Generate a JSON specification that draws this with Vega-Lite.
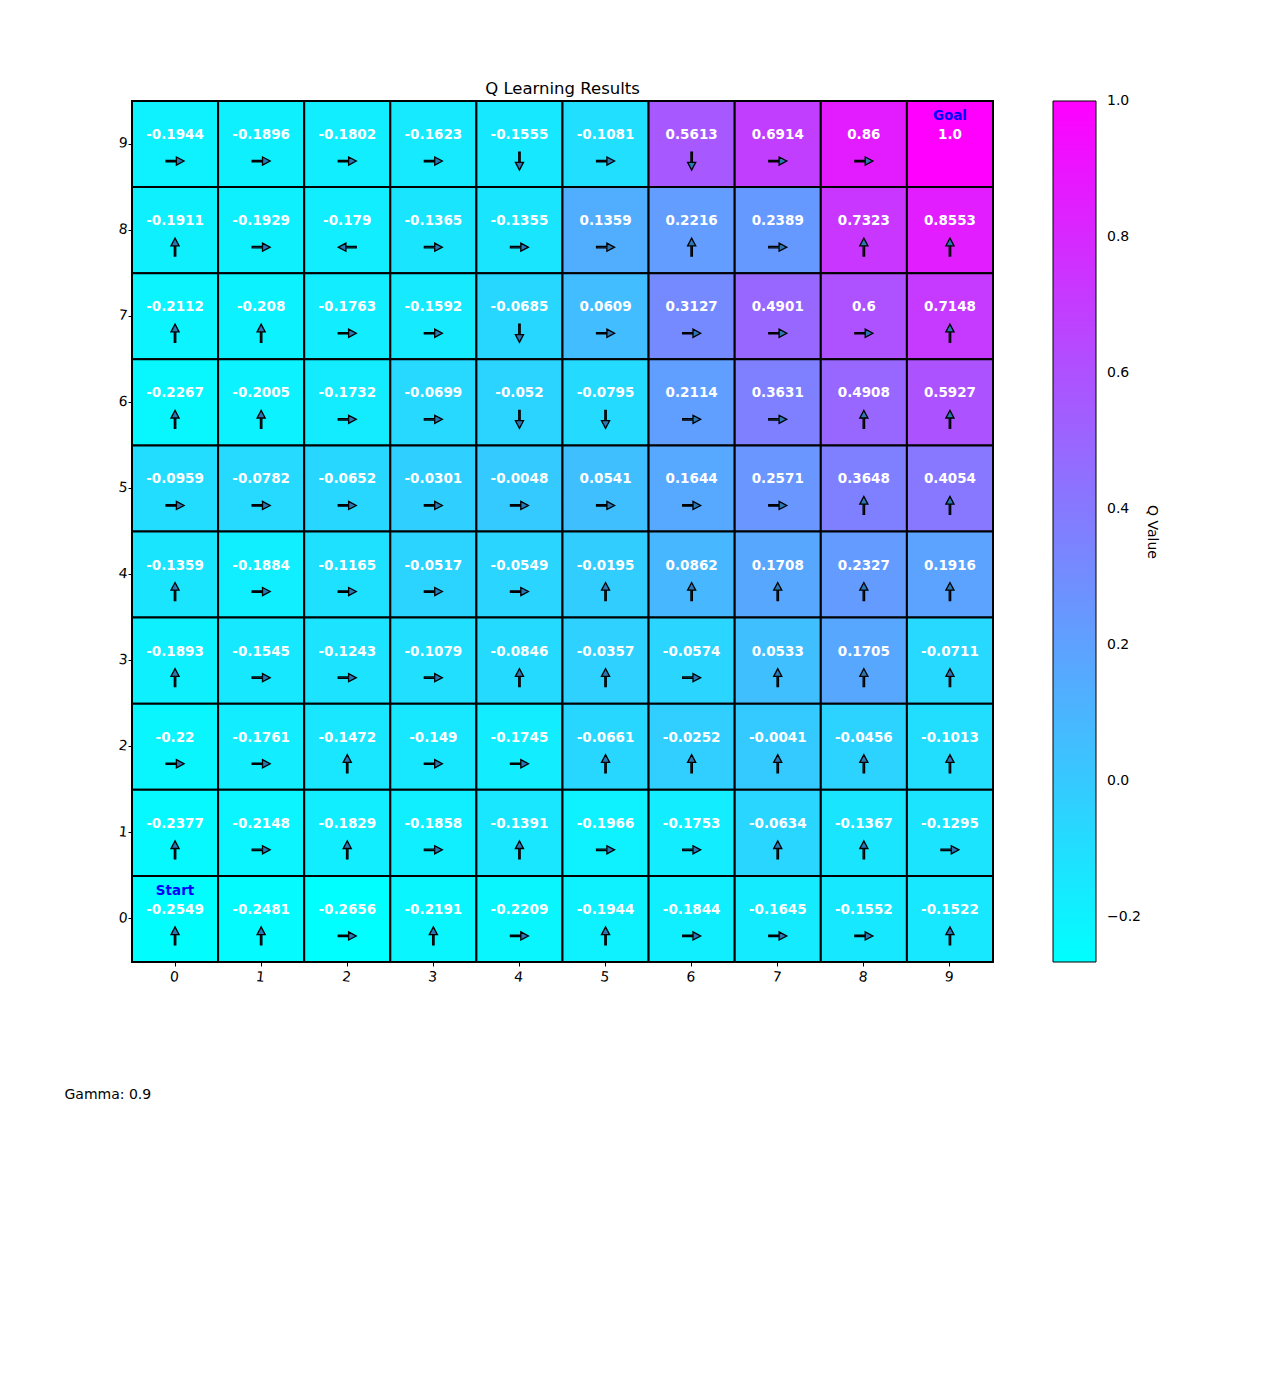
{
 "$schema": "https://vega.github.io/schema/vega-lite/v6.json",
 "width": 861, "height": 861,
 "autosize": {"type": "none"},
 "padding": {"left": 132, "top": 101, "right": 285, "bottom": 412},
 "config": {"font": "DejaVu Sans", "view": {"stroke": null}},
 "title": {"text": "Q Learning Results", "fontSize": 16.5, "fontWeight": "normal", "offset": 3, "color": "#000000"},
 "data": {"values": [
  {"r":9,"c":0,"v":-0.1944,"t":"-0.1944","d":"R","s":""},
  {"r":9,"c":1,"v":-0.1896,"t":"-0.1896","d":"R","s":""},
  {"r":9,"c":2,"v":-0.1802,"t":"-0.1802","d":"R","s":""},
  {"r":9,"c":3,"v":-0.1623,"t":"-0.1623","d":"R","s":""},
  {"r":9,"c":4,"v":-0.1555,"t":"-0.1555","d":"D","s":""},
  {"r":9,"c":5,"v":-0.1081,"t":"-0.1081","d":"R","s":""},
  {"r":9,"c":6,"v":0.5613,"t":"0.5613","d":"D","s":""},
  {"r":9,"c":7,"v":0.6914,"t":"0.6914","d":"R","s":""},
  {"r":9,"c":8,"v":0.86,"t":"0.86","d":"R","s":""},
  {"r":9,"c":9,"v":1.0,"t":"1.0","d":"","s":"Goal"},
  {"r":8,"c":0,"v":-0.1911,"t":"-0.1911","d":"U","s":""},
  {"r":8,"c":1,"v":-0.1929,"t":"-0.1929","d":"R","s":""},
  {"r":8,"c":2,"v":-0.179,"t":"-0.179","d":"L","s":""},
  {"r":8,"c":3,"v":-0.1365,"t":"-0.1365","d":"R","s":""},
  {"r":8,"c":4,"v":-0.1355,"t":"-0.1355","d":"R","s":""},
  {"r":8,"c":5,"v":0.1359,"t":"0.1359","d":"R","s":""},
  {"r":8,"c":6,"v":0.2216,"t":"0.2216","d":"U","s":""},
  {"r":8,"c":7,"v":0.2389,"t":"0.2389","d":"R","s":""},
  {"r":8,"c":8,"v":0.7323,"t":"0.7323","d":"U","s":""},
  {"r":8,"c":9,"v":0.8553,"t":"0.8553","d":"U","s":""},
  {"r":7,"c":0,"v":-0.2112,"t":"-0.2112","d":"U","s":""},
  {"r":7,"c":1,"v":-0.208,"t":"-0.208","d":"U","s":""},
  {"r":7,"c":2,"v":-0.1763,"t":"-0.1763","d":"R","s":""},
  {"r":7,"c":3,"v":-0.1592,"t":"-0.1592","d":"R","s":""},
  {"r":7,"c":4,"v":-0.0685,"t":"-0.0685","d":"D","s":""},
  {"r":7,"c":5,"v":0.0609,"t":"0.0609","d":"R","s":""},
  {"r":7,"c":6,"v":0.3127,"t":"0.3127","d":"R","s":""},
  {"r":7,"c":7,"v":0.4901,"t":"0.4901","d":"R","s":""},
  {"r":7,"c":8,"v":0.6,"t":"0.6","d":"R","s":""},
  {"r":7,"c":9,"v":0.7148,"t":"0.7148","d":"U","s":""},
  {"r":6,"c":0,"v":-0.2267,"t":"-0.2267","d":"U","s":""},
  {"r":6,"c":1,"v":-0.2005,"t":"-0.2005","d":"U","s":""},
  {"r":6,"c":2,"v":-0.1732,"t":"-0.1732","d":"R","s":""},
  {"r":6,"c":3,"v":-0.0699,"t":"-0.0699","d":"R","s":""},
  {"r":6,"c":4,"v":-0.052,"t":"-0.052","d":"D","s":""},
  {"r":6,"c":5,"v":-0.0795,"t":"-0.0795","d":"D","s":""},
  {"r":6,"c":6,"v":0.2114,"t":"0.2114","d":"R","s":""},
  {"r":6,"c":7,"v":0.3631,"t":"0.3631","d":"R","s":""},
  {"r":6,"c":8,"v":0.4908,"t":"0.4908","d":"U","s":""},
  {"r":6,"c":9,"v":0.5927,"t":"0.5927","d":"U","s":""},
  {"r":5,"c":0,"v":-0.0959,"t":"-0.0959","d":"R","s":""},
  {"r":5,"c":1,"v":-0.0782,"t":"-0.0782","d":"R","s":""},
  {"r":5,"c":2,"v":-0.0652,"t":"-0.0652","d":"R","s":""},
  {"r":5,"c":3,"v":-0.0301,"t":"-0.0301","d":"R","s":""},
  {"r":5,"c":4,"v":-0.0048,"t":"-0.0048","d":"R","s":""},
  {"r":5,"c":5,"v":0.0541,"t":"0.0541","d":"R","s":""},
  {"r":5,"c":6,"v":0.1644,"t":"0.1644","d":"R","s":""},
  {"r":5,"c":7,"v":0.2571,"t":"0.2571","d":"R","s":""},
  {"r":5,"c":8,"v":0.3648,"t":"0.3648","d":"U","s":""},
  {"r":5,"c":9,"v":0.4054,"t":"0.4054","d":"U","s":""},
  {"r":4,"c":0,"v":-0.1359,"t":"-0.1359","d":"U","s":""},
  {"r":4,"c":1,"v":-0.1884,"t":"-0.1884","d":"R","s":""},
  {"r":4,"c":2,"v":-0.1165,"t":"-0.1165","d":"R","s":""},
  {"r":4,"c":3,"v":-0.0517,"t":"-0.0517","d":"R","s":""},
  {"r":4,"c":4,"v":-0.0549,"t":"-0.0549","d":"R","s":""},
  {"r":4,"c":5,"v":-0.0195,"t":"-0.0195","d":"U","s":""},
  {"r":4,"c":6,"v":0.0862,"t":"0.0862","d":"U","s":""},
  {"r":4,"c":7,"v":0.1708,"t":"0.1708","d":"U","s":""},
  {"r":4,"c":8,"v":0.2327,"t":"0.2327","d":"U","s":""},
  {"r":4,"c":9,"v":0.1916,"t":"0.1916","d":"U","s":""},
  {"r":3,"c":0,"v":-0.1893,"t":"-0.1893","d":"U","s":""},
  {"r":3,"c":1,"v":-0.1545,"t":"-0.1545","d":"R","s":""},
  {"r":3,"c":2,"v":-0.1243,"t":"-0.1243","d":"R","s":""},
  {"r":3,"c":3,"v":-0.1079,"t":"-0.1079","d":"R","s":""},
  {"r":3,"c":4,"v":-0.0846,"t":"-0.0846","d":"U","s":""},
  {"r":3,"c":5,"v":-0.0357,"t":"-0.0357","d":"U","s":""},
  {"r":3,"c":6,"v":-0.0574,"t":"-0.0574","d":"R","s":""},
  {"r":3,"c":7,"v":0.0533,"t":"0.0533","d":"U","s":""},
  {"r":3,"c":8,"v":0.1705,"t":"0.1705","d":"U","s":""},
  {"r":3,"c":9,"v":-0.0711,"t":"-0.0711","d":"U","s":""},
  {"r":2,"c":0,"v":-0.22,"t":"-0.22","d":"R","s":""},
  {"r":2,"c":1,"v":-0.1761,"t":"-0.1761","d":"R","s":""},
  {"r":2,"c":2,"v":-0.1472,"t":"-0.1472","d":"U","s":""},
  {"r":2,"c":3,"v":-0.149,"t":"-0.149","d":"R","s":""},
  {"r":2,"c":4,"v":-0.1745,"t":"-0.1745","d":"R","s":""},
  {"r":2,"c":5,"v":-0.0661,"t":"-0.0661","d":"U","s":""},
  {"r":2,"c":6,"v":-0.0252,"t":"-0.0252","d":"U","s":""},
  {"r":2,"c":7,"v":-0.0041,"t":"-0.0041","d":"U","s":""},
  {"r":2,"c":8,"v":-0.0456,"t":"-0.0456","d":"U","s":""},
  {"r":2,"c":9,"v":-0.1013,"t":"-0.1013","d":"U","s":""},
  {"r":1,"c":0,"v":-0.2377,"t":"-0.2377","d":"U","s":""},
  {"r":1,"c":1,"v":-0.2148,"t":"-0.2148","d":"R","s":""},
  {"r":1,"c":2,"v":-0.1829,"t":"-0.1829","d":"U","s":""},
  {"r":1,"c":3,"v":-0.1858,"t":"-0.1858","d":"R","s":""},
  {"r":1,"c":4,"v":-0.1391,"t":"-0.1391","d":"U","s":""},
  {"r":1,"c":5,"v":-0.1966,"t":"-0.1966","d":"R","s":""},
  {"r":1,"c":6,"v":-0.1753,"t":"-0.1753","d":"R","s":""},
  {"r":1,"c":7,"v":-0.0634,"t":"-0.0634","d":"U","s":""},
  {"r":1,"c":8,"v":-0.1367,"t":"-0.1367","d":"U","s":""},
  {"r":1,"c":9,"v":-0.1295,"t":"-0.1295","d":"R","s":""},
  {"r":0,"c":0,"v":-0.2549,"t":"-0.2549","d":"U","s":"Start"},
  {"r":0,"c":1,"v":-0.2481,"t":"-0.2481","d":"U","s":""},
  {"r":0,"c":2,"v":-0.2656,"t":"-0.2656","d":"R","s":""},
  {"r":0,"c":3,"v":-0.2191,"t":"-0.2191","d":"U","s":""},
  {"r":0,"c":4,"v":-0.2209,"t":"-0.2209","d":"R","s":""},
  {"r":0,"c":5,"v":-0.1944,"t":"-0.1944","d":"U","s":""},
  {"r":0,"c":6,"v":-0.1844,"t":"-0.1844","d":"R","s":""},
  {"r":0,"c":7,"v":-0.1645,"t":"-0.1645","d":"R","s":""},
  {"r":0,"c":8,"v":-0.1552,"t":"-0.1552","d":"R","s":""},
  {"r":0,"c":9,"v":-0.1522,"t":"-0.1522","d":"U","s":""}
 ]},
 "encoding": {
  "x": {"field": "c", "type": "ordinal", "scale": {"paddingInner": 0, "paddingOuter": 0},
        "axis": {"title": "Gamma: 0.9", "titleX": -68, "titleY": 132, "titleAlign": "left", "titleAnchor": "start", "titleBaseline": "middle",
                 "titleFontSize": 14, "titleFontWeight": "normal", "titleColor": "#000000",
                 "labelAngle": 6, "labelAlign": "center", "labelBaseline": "top", "labelFontSize": 14, "labelColor": "#000000", "labelPadding": 4,
                 "tickColor": "#000000", "tickSize": 4, "domainColor": "#000000"}},
  "y": {"field": "r", "type": "ordinal", "sort": "descending", "scale": {"paddingInner": 0, "paddingOuter": 0},
        "axis": {"title": null, "labelAngle": 6, "labelAlign": "right", "labelBaseline": "middle", "labelFontSize": 14, "labelColor": "#000000", "labelPadding": 1,
                 "tickColor": "#000000", "tickSize": 4, "domainColor": "#000000"}}
 },
 "layer": [
  {"mark": {"type": "rect", "stroke": "#000000", "strokeWidth": 2},
   "encoding": {"color": {"field": "v", "type": "quantitative",
      "scale": {"domain": [-0.2656, 1.0], "range": ["#00ffff", "#ff00ff"], "interpolate": "rgb"},
      "legend": {"title": "Q Value", "orient": "right", "offset": 60, "gradientLength": 861, "gradientThickness": 43,
                 "gradientStrokeColor": "#000000", "gradientStrokeWidth": 1,
                 "values": [-0.2, 0, 0.2, 0.4, 0.6, 0.8, 1.0], "format": ".1f",
                 "labelFontSize": 14, "labelColor": "#000000", "labelOffset": 11, "labelOverlap": false,
                 "titleOrient": "right", "titleFontSize": 14, "titleFontWeight": "normal", "titleColor": "#000000",
                 "titleAnchor": "middle", "titlePadding": 4,
                 "encode": {"title": {"update": {"angle": {"value": 90}}},
                            "labels": {"update": {"baseline": {"value": "middle"}}}}}}}},
  {"mark": {"type": "text", "color": "#ffffff", "fontWeight": "bold", "fontSize": 13.5, "dy": -9, "baseline": "middle"},
   "encoding": {"text": {"field": "t", "type": "nominal"}}},
  {"transform": [{"filter": "datum.d != ''"}],
   "mark": {"type": "point", "filled": true, "fill": "#2a78b4", "stroke": "#000000", "strokeWidth": 1.3, "opacity": 1, "size": 324, "yOffset": 17,
            "shape": "M -1 -0.08 L 0.15 -0.08 L 0.15 -0.45 L 1 0 L 0.15 0.45 L 0.15 0.08 L -1 0.08 Z"},
   "encoding": {"angle": {"field": "d", "type": "nominal", "scale": {"type": "ordinal", "domain": ["R", "D", "L", "U"], "range": [0, 90, 180, 270]}, "legend": null}}},
  {"transform": [{"filter": "datum.s != ''"}],
   "mark": {"type": "text", "color": "#0000ff", "fontWeight": "bold", "fontSize": 13.5, "dy": -28, "baseline": "middle"},
   "encoding": {"text": {"field": "s", "type": "nominal"}}}
 ]
}
